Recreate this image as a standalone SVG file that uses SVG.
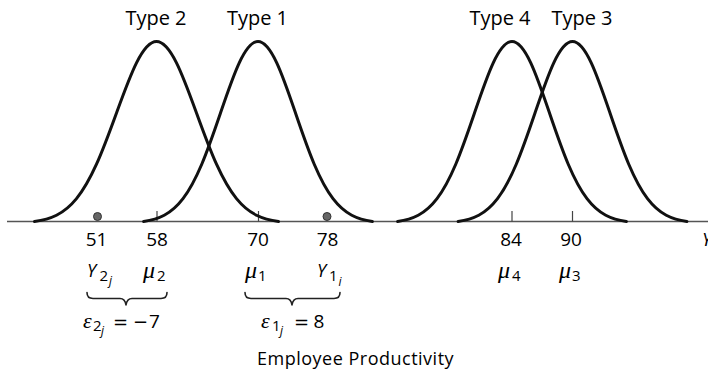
<svg xmlns="http://www.w3.org/2000/svg" xmlns:xlink="http://www.w3.org/1999/xlink" width="708" height="373" viewBox="0 0 708 373">
<style>
.curve{fill:none;stroke:#111;stroke-width:3;stroke-linecap:round;stroke-linejoin:round}
.tick{stroke:#444;stroke-width:1.2}
.brace{fill:none;stroke:#222;stroke-width:1.6;stroke-linecap:round;stroke-linejoin:round}
.lbl{font-family:"Open Sans","Liberation Sans",sans-serif;fill:#000}
.type{font-size:20px;text-anchor:middle}
.num{font-size:19px;text-anchor:middle}
.mu{font-family:"Liberation Serif",serif;font-style:italic;font-size:24px;fill:#000}
.eps{font-family:"Liberation Serif",serif;font-style:italic;font-size:22px;fill:#000}
.sub{font-size:15px}
.sub2{font-size:12px;font-style:italic}
.Y{font-size:18px;font-style:italic}
.op{font-family:"DejaVu Sans",sans-serif;font-size:18px;fill:#000}
</style>
<defs>
<path id="g375" d="M-114.38,0 C-107.5,-0.97 -100.63,-2.59 -93.75,-6.25 C-87.5,-9.58 -81.25,-14.66 -75,-22.86 C-68.75,-31.06 -62.5,-42.52 -56.25,-57.27 C-50,-72.02 -43.75,-90.13 -37.5,-108.5 C-31.25,-126.87 -25,-145.28 -18.75,-158.65 C-12.5,-172.02 -6.25,-180 0,-180 C6.25,-180 12.5,-172.02 18.75,-158.65 C25,-145.28 31.25,-126.87 37.5,-108.5 C43.75,-90.13 50,-72.02 56.25,-57.27 C62.5,-42.52 68.75,-31.06 75,-22.86 C81.25,-14.66 87.5,-9.58 93.75,-6.25 C100.63,-2.59 107.5,-0.97 114.38,0"/>
<path id="g400" d="M-122,0 C-114.67,-0.97 -107.33,-2.59 -100,-6.25 C-93.33,-9.58 -86.67,-14.66 -80,-22.86 C-73.33,-31.06 -66.67,-42.52 -60,-57.27 C-53.33,-72.02 -46.67,-90.13 -40,-108.5 C-33.33,-126.87 -26.67,-145.28 -20,-158.65 C-13.33,-172.02 -6.67,-180 0,-180 C6.67,-180 13.33,-172.02 20,-158.65 C26.67,-145.28 33.33,-126.87 40,-108.5 C46.67,-90.13 53.33,-72.02 60,-57.27 C66.67,-42.52 73.33,-31.06 80,-22.86 C86.67,-14.66 93.33,-9.58 100,-6.25 C107.33,-2.59 114.67,-0.97 122,0"/>
</defs>
<rect width="708" height="373" fill="#fff"/>

<g id="axis">
<line x1="7" y1="221.5" x2="708" y2="221.5" stroke="#555" stroke-width="1.6"/>
<line class="tick" x1="157" y1="211" x2="157" y2="221.5"/>
<line class="tick" x1="258.5" y1="211" x2="258.5" y2="221.5"/>
<line class="tick" x1="512" y1="211" x2="512" y2="221.5"/>
<line class="tick" x1="572.5" y1="211" x2="572.5" y2="221.5"/>
<text class="lbl num" x="96.5" y="246">51</text>
<text class="lbl num" x="157" y="246">58</text>
<text class="lbl num" x="258" y="246">70</text>
<text class="lbl num" x="327.5" y="246">78</text>
<text class="lbl num" x="511" y="246">84</text>
<text class="lbl num" x="571" y="246">90</text>
<text class="lbl" x="702" y="246" font-size="19" font-style="italic">Y</text>
</g>

<g id="type2">
<use xlink:href="#g400" class="curve" transform="translate(156.5,221.5)"/>
<text class="lbl type" x="156" y="25">Type 2</text>
</g>
<g id="type1">
<use xlink:href="#g375" class="curve" transform="translate(258,221.5)"/>
<text class="lbl type" x="257.5" y="25">Type 1</text>
</g>
<g id="type4">
<use xlink:href="#g375" class="curve" transform="translate(512,221.5)"/>
<text class="lbl type" x="500" y="25">Type 4</text>
</g>
<g id="type3">
<use xlink:href="#g375" class="curve" transform="translate(572.5,221.5)"/>
<text class="lbl type" x="582" y="25">Type 3</text>
</g>

<g id="observations">
<circle cx="97.5" cy="216.5" r="4" fill="#666" stroke="#333" stroke-width="1"/>
<circle cx="327" cy="216.5" r="4" fill="#666" stroke="#333" stroke-width="1"/>
</g>

<g id="symbols">
<text class="lbl Y" x="87" y="277">Y</text>
<text class="lbl sub" x="99.5" y="281">2</text>
<text class="lbl sub2" x="109" y="285">j</text>
<text class="mu" x="143" y="278">μ</text>
<text class="lbl sub" x="157" y="281">2</text>
<text class="mu" x="245" y="278">μ</text>
<text class="lbl sub" x="258" y="281">1</text>
<text class="lbl Y" x="317" y="277">Y</text>
<text class="lbl sub" x="329" y="281">1</text>
<text class="lbl sub2" x="338.5" y="286">i</text>
<text class="mu" x="498" y="278">μ</text>
<text class="lbl sub" x="512" y="281">4</text>
<text class="mu" x="559" y="278">μ</text>
<text class="lbl sub" x="572" y="281">3</text>
</g>

<g id="brace-left">
<path class="brace" d="M87,292.5 Q87,298.5 93,298.5 L120,298.5 Q125,298.5 126,305 Q127,298.5 132,298.5 L161,298.5 Q167,298.5 167,292.5"/>
<text class="eps" x="83" y="328">ε</text>
<text class="lbl sub" x="93" y="331">2</text>
<text class="lbl sub2" x="101" y="335">j</text>
<text class="op" x="113" y="328">=</text>
<text class="op" x="133" y="328">−</text>
<text class="lbl" x="149" y="328" font-size="19">7</text>
</g>

<g id="brace-right">
<path class="brace" d="M245,292.5 Q245,298.5 251,298.5 L286,298.5 Q291,298.5 292,305 Q293,298.5 298,298.5 L334,298.5 Q340,298.5 340,292.5"/>
<text class="eps" x="261" y="328">ε</text>
<text class="lbl sub" x="272" y="331">1</text>
<text class="lbl sub2" x="280" y="335">j</text>
<text class="op" x="294" y="328">=</text>
<text class="lbl" x="313.5" y="328" font-size="19">8</text>
</g>

<text class="lbl" x="257" y="365" font-size="18" letter-spacing="0.5">Employee Productivity</text>
</svg>
